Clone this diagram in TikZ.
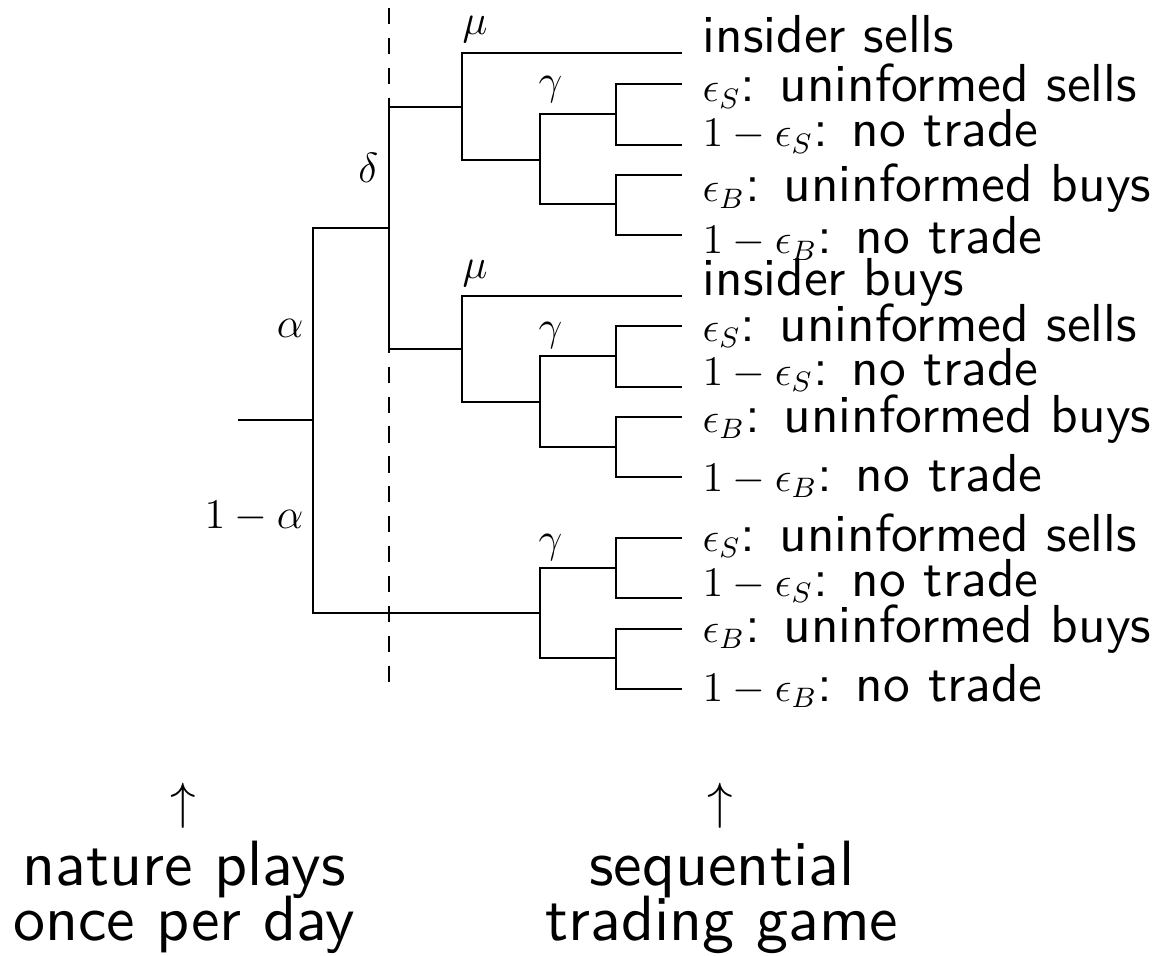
\documentclass[tikz,border=0pt]{standalone}
\usepackage{fix-cm}
\usepackage[no-math]{fontspec}
\newfontfamily\cmsans{lmsans10-regular.otf}
\newcommand\lblf{\fontsize{15.2}{18}\selectfont\cmsans}
\newcommand\mth[1]{{\fontsize{12}{14.4}\selectfont$#1$}}
\newcommand\btmf{\fontsize{18.2}{22}\selectfont\cmsans}
\newcommand\btmarrow{{\fontsize{14.5}{17}\selectfont$\uparrow$}}
\begin{document}
\begin{tikzpicture}[x=0.01cm,y=-0.01cm,
  edge/.style={line width=0.75pt, line join=miter},
  sep/.style={line width=0.75pt, dash pattern=on 4.6pt off 3.9pt},
  leaflbl/.style={anchor=base west, inner sep=0pt, font=\lblf},
  prob/.style={inner sep=0pt, font=\fontsize{12}{14.4}\selectfont},
  btm/.style={anchor=base, inner sep=0pt, font=\btmf}]
\useasboundingbox (0,0) rectangle (1168,955);
% coordinates
\coordinate (root) at (238,420);
\coordinate (nA) at (313,420);
\coordinate (aT) at (313,228);
\coordinate (aB) at (313,613);
\coordinate (dM) at (389,228);
\coordinate (dT) at (389,107);
\coordinate (dB) at (389,349);
\coordinate (dashT) at (389,8);
\coordinate (dashB) at (389,690);
% subtree 1
\coordinate (m1) at (462,107);
\coordinate (m1T) at (462,53);
\coordinate (m1B) at (462,160);
\coordinate (g1) at (540,160);
\coordinate (g1T) at (540,114);
\coordinate (g1B) at (540,204);
\coordinate (e1) at (616,114);
\coordinate (e1T) at (616,84);
\coordinate (e1B) at (616,145);
\coordinate (f1) at (616,204);
\coordinate (f1T) at (616,175);
\coordinate (f1B) at (616,235);
\coordinate (L1) at (682,53);
\coordinate (L2) at (682,84);
\coordinate (L3) at (682,145);
\coordinate (L4) at (682,175);
\coordinate (L5) at (682,235);
% subtree 2
\coordinate (m2) at (462,349);
\coordinate (m2T) at (462,296);
\coordinate (m2B) at (462,402);
\coordinate (g2) at (540,402);
\coordinate (g2T) at (540,356);
\coordinate (g2B) at (540,447);
\coordinate (e2) at (616,356);
\coordinate (e2T) at (616,326);
\coordinate (e2B) at (616,387);
\coordinate (f2) at (616,447);
\coordinate (f2T) at (616,417);
\coordinate (f2B) at (616,477);
\coordinate (L6) at (682,296);
\coordinate (L7) at (682,326);
\coordinate (L8) at (682,387);
\coordinate (L9) at (682,417);
\coordinate (L10) at (682,477);
% subtree 3
\coordinate (g3) at (540,613);
\coordinate (g3T) at (540,568);
\coordinate (g3B) at (540,658);
\coordinate (e3) at (616,568);
\coordinate (e3T) at (616,538);
\coordinate (e3B) at (616,598);
\coordinate (f3) at (616,658);
\coordinate (f3T) at (616,629);
\coordinate (f3B) at (616,689);
\coordinate (L11) at (682,538);
\coordinate (L12) at (682,598);
\coordinate (L13) at (682,629);
\coordinate (L14) at (682,689);

% dashed separator
\draw[sep] (dashT) -- (dashB);

% tree
\draw[edge] (root) -- (nA);
\draw[edge] (dM) -- (aT) -- (aB) -- (g3);
\draw[edge] (m1) -- (dT) -- (dB) -- (m2);
\draw[edge] (L1) -- (m1T) -- (m1B) -- (g1);
\draw[edge] (e1) -- (g1T) -- (g1B) -- (f1);
\draw[edge] (L2) -- (e1T) -- (e1B) -- (L3);
\draw[edge] (L4) -- (f1T) -- (f1B) -- (L5);
\draw[edge] (L6) -- (m2T) -- (m2B) -- (g2);
\draw[edge] (e2) -- (g2T) -- (g2B) -- (f2);
\draw[edge] (L7) -- (e2T) -- (e2B) -- (L8);
\draw[edge] (L9) -- (f2T) -- (f2B) -- (L10);
\draw[edge] (e3) -- (g3T) -- (g3B) -- (f3);
\draw[edge] (L11) -- (e3T) -- (e3B) -- (L12);
\draw[edge] (L13) -- (f3T) -- (f3B) -- (L14);

% probability labels
\node[prob, anchor=base east] (alpha) at (304,337) {$\alpha$};
\node[prob, anchor=base east] (nalpha) at (304,528) {$1-\alpha$};
\node[prob, anchor=base east] (delta) at (379,183) {$\delta$};
\node[prob, anchor=base west] (mu1) at (462,35) {$\mu$};
\node[prob, anchor=base west] (mu2) at (462,278) {$\mu$};
\node[prob, anchor=base west] (gam1) at (538,95) {$\gamma$};
\node[prob, anchor=base west] (gam2) at (538,340) {$\gamma$};
\node[prob, anchor=base west] (gam3) at (538,552) {$\gamma$};

% leaf labels
\node[leaflbl] (t1) at (702,53) {insider sells};
\node[leaflbl] (t2) at (702,102) {\mth{\epsilon_S}: uninformed sells};
\node[leaflbl] (t3) at (702,147) {\mth{1-\epsilon_S}: no trade};
\node[leaflbl] (t4) at (702,202) {\mth{\epsilon_B}: uninformed buys};
\node[leaflbl] (t5) at (702,254) {\mth{1-\epsilon_B}: no trade};
\node[leaflbl] (t6) at (702,295) {insider buys};
\node[leaflbl] (t7) at (702,341) {\mth{\epsilon_S}: uninformed sells};
\node[leaflbl] (t8) at (702,385) {\mth{1-\epsilon_S}: no trade};
\node[leaflbl] (t9) at (702,432) {\mth{\epsilon_B}: uninformed buys};
\node[leaflbl] (t10) at (702,491) {\mth{1-\epsilon_B}: no trade};
\node[leaflbl] (t11) at (702,551) {\mth{\epsilon_S}: uninformed sells};
\node[leaflbl] (t12) at (702,596) {\mth{1-\epsilon_S}: no trade};
\node[leaflbl] (t13) at (702,642) {\mth{\epsilon_B}: uninformed buys};
\node[leaflbl] (t14) at (702,701) {\mth{1-\epsilon_B}: no trade};

% bottom annotations
\node[inner sep=0pt] (arr1) at (183,806) {\btmarrow};
\node[inner sep=0pt] (arr2) at (720,806) {\btmarrow};
\node[btm] (nat1) at (184,885) {nature plays};
\node[btm] (nat2) at (184,940) {once per day};
\node[btm] (seq1) at (722,885) {sequential};
\node[btm] (seq2) at (722,940) {trading game};
\end{tikzpicture}
\end{document}
